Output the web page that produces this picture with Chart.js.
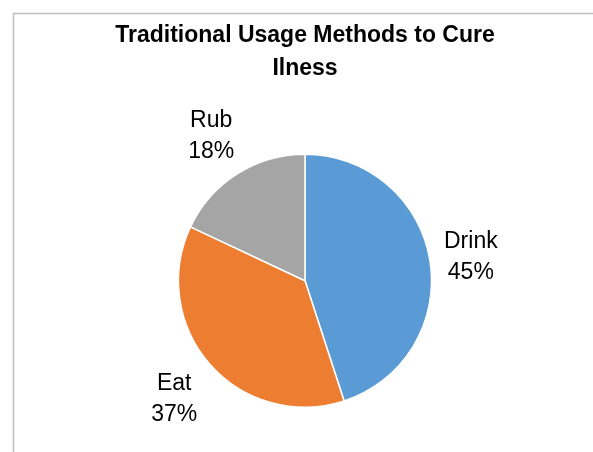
<!DOCTYPE html>
<html>
<head>
<meta charset="utf-8">
<script src="https://cdn.jsdelivr.net/npm/chart.js@4"></script>
<style>
  html, body { margin: 0; padding: 0; background: #fff; }
  #wrap { width: 593px; height: 452px; }
</style>
</head>
<body>
<div id="wrap"><canvas id="myChart" width="593" height="452"></canvas></div>
<script>
// Data metode penggunaan tradisional (persen)
const kategori = ['Drink', 'Eat', 'Rub'];
const persen = [45, 37, 18];
const warna = ['#5B9BD5', '#ED7D31', '#A5A5A5'];
const judul = ['Traditional Usage Methods to Cure', 'Ilness'];

// bingkai abu-abu di sekitar chart
const bingkai = {
  id: 'bingkai',
  beforeDraw(chart) {
    const c = chart.ctx;
    c.save();
    c.fillStyle = '#fff';
    c.fillRect(0, 0, chart.width, chart.height);
    c.strokeStyle = '#BFBFBF';
    c.lineWidth = 1.5;
    c.strokeRect(13.5, 13.5, 620, 500);
    c.restore();
  }
};

// label kategori + persen di luar irisan
const labelLuar = {
  id: 'labelLuar',
  afterDatasetsDraw(chart) {
    const c = chart.ctx;
    const meta = chart.getDatasetMeta(0);
    const data = chart.data.datasets[0].data;
    const total = data.reduce((a, b) => a + b, 0);
    c.save();
    c.font = '23px "Liberation Sans", Arial, sans-serif';
    c.fillStyle = '#000';
    c.textAlign = 'center';
    c.textBaseline = 'middle';
    const lh = 31;
    meta.data.forEach((arc, i) => {
      const p = arc.getProps(['x', 'y', 'startAngle', 'endAngle', 'outerRadius'], true);
      const mid = (p.startAngle + p.endAngle) / 2;
      const dx = Math.cos(mid), dy = Math.sin(mid);
      const baris = [chart.data.labels[i], Math.round(data[i] / total * 100) + '%'];
      const w = Math.max(...baris.map(t => c.measureText(t).width));
      const h = lh * baris.length;
      const jarak = p.outerRadius + 10 + Math.abs(dx) * w / 2 + Math.abs(dy) * h / 2;
      const cx = p.x + dx * jarak;
      const cy = p.y + dy * jarak + 3; // sedikit turun supaya pas
      baris.forEach((t, k) => {
        c.fillText(t, cx, cy - h / 2 + lh * k + lh / 2);
      });
    });
    c.restore();
  }
};

const ctx = document.getElementById('myChart').getContext('2d');

const myChart = new Chart(ctx, {
  type: 'pie',
  data: {
    labels: kategori,
    datasets: [{
      data: persen,
      backgroundColor: warna,
      borderColor: '#fff',
      borderWidth: 1.5,
      hoverOffset: 0
    }]
  },
  options: {
    responsive: false,
    animation: false,
    layout: {
      padding: { left: 17, right: 0, top: 20, bottom: 44 }
    },
    plugins: {
      legend: { display: false },
      tooltip: { enabled: false },
      title: {
        display: true,
        text: judul,
        color: '#000',
        font: { family: '"Liberation Sans", Arial, sans-serif', size: 23, weight: 'bold', lineHeight: 1.4 },
        padding: { top: 0, bottom: 69 }
      }
    }
  },
  plugins: [bingkai, labelLuar]
});
</script>
</body>
</html>
